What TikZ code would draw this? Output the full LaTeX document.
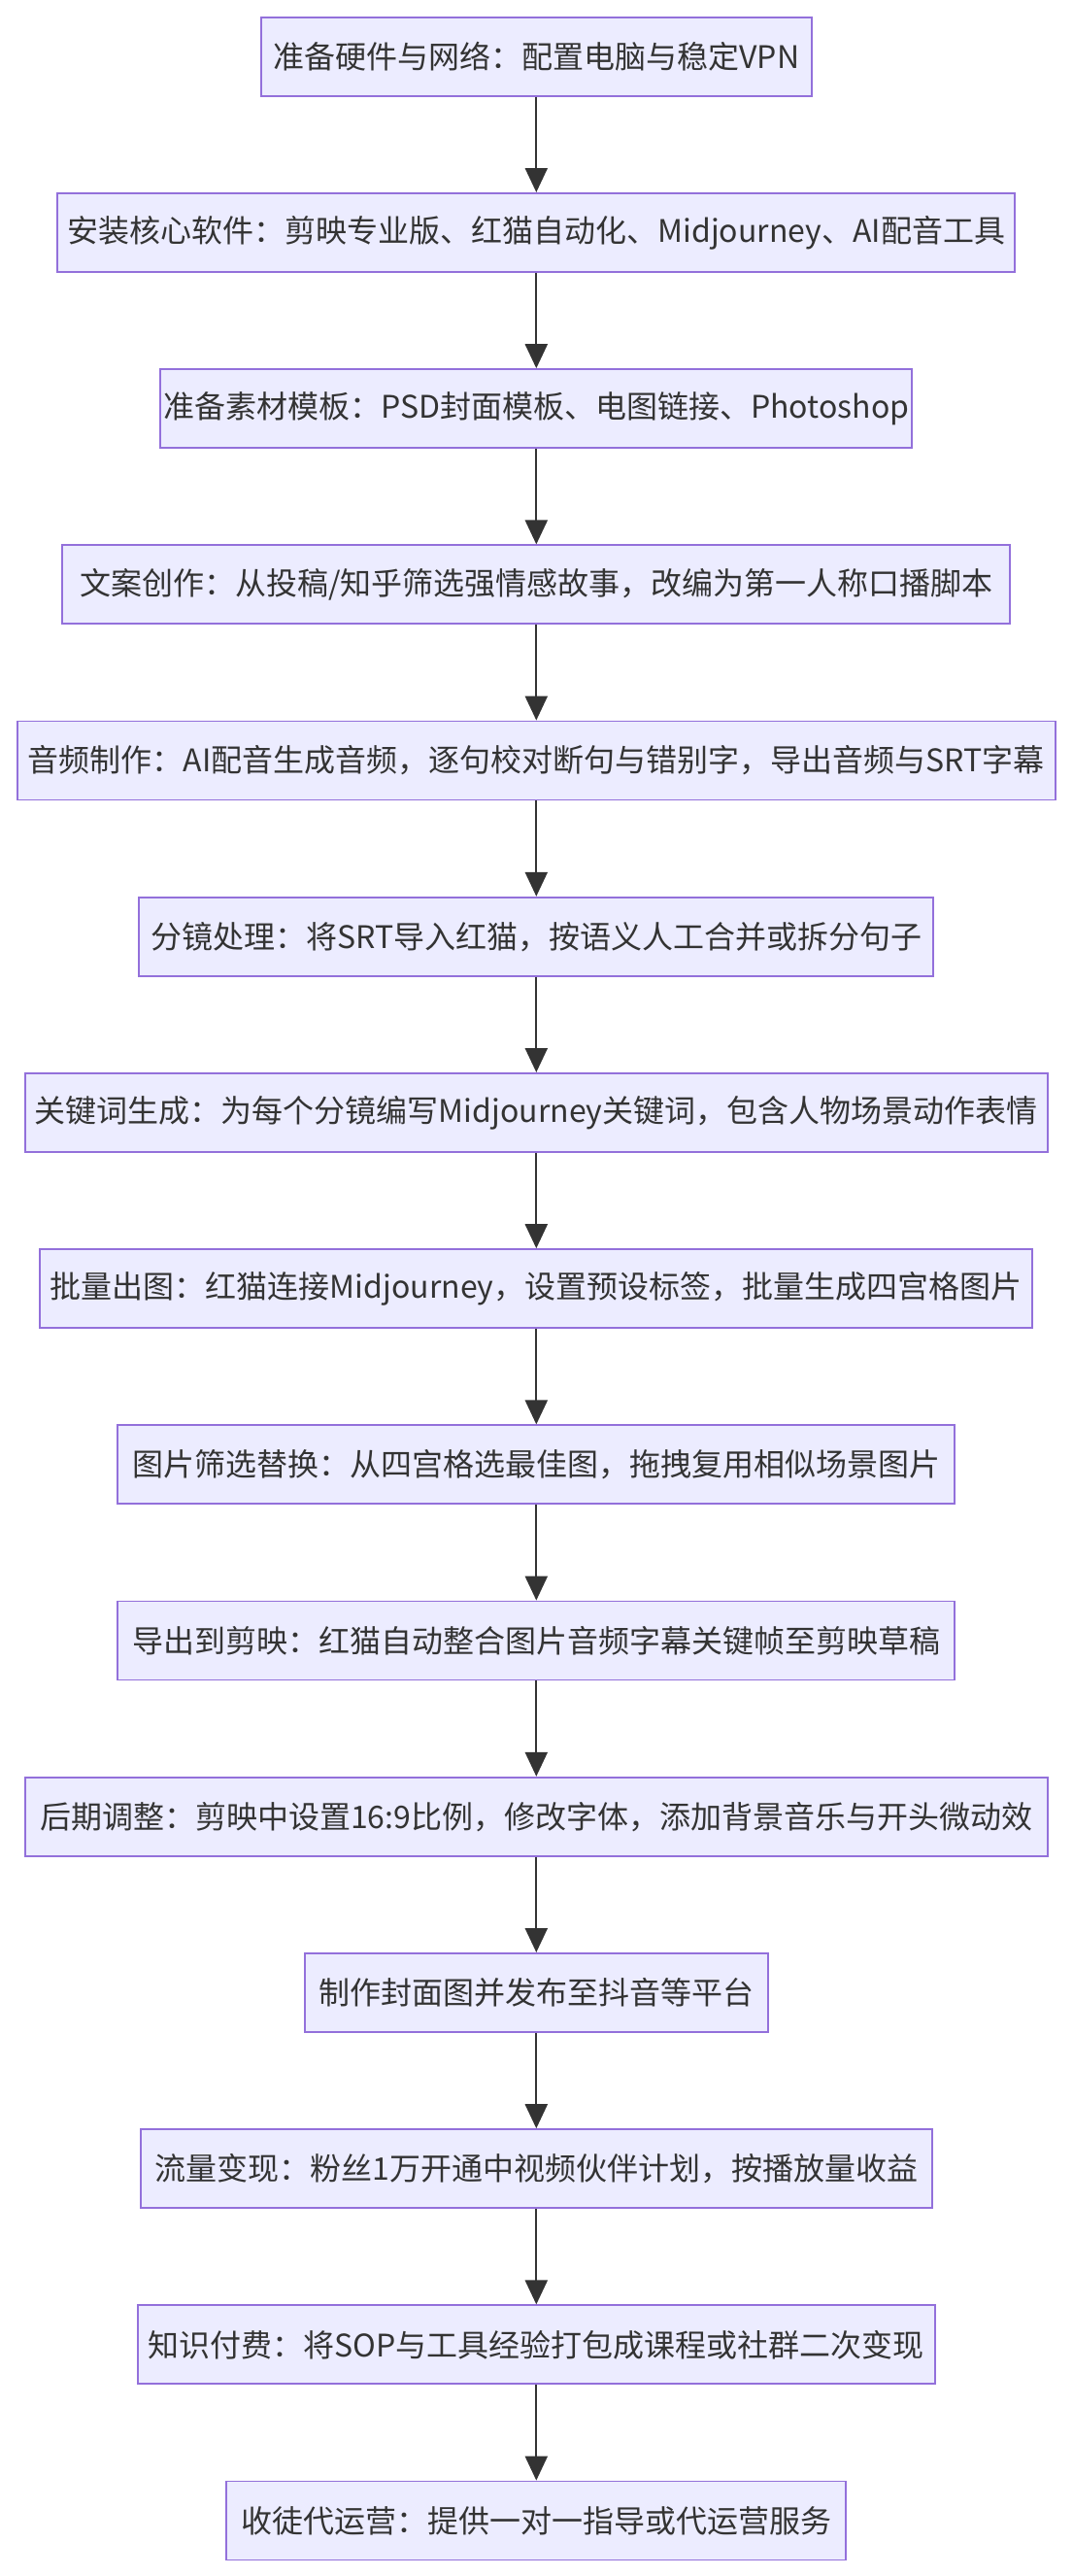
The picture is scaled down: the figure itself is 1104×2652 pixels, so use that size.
\documentclass[tikz,border=0pt]{standalone}
\usepackage{fontspec}
\setmainfont{Noto Sans CJK SC}
\usetikzlibrary{arrows.meta}
\definecolor{boxfill}{HTML}{ECECFF}
\definecolor{boxline}{HTML}{9370DB}
\definecolor{arrowcol}{HTML}{333333}
\tikzset{
  stepbox/.style={draw=boxline, fill=boxfill, line width=1.8pt, rectangle,
    minimum height=81pt, inner sep=0pt, text=arrowcol,
    font=\fontsize{32}{38}\selectfont},
  flowarrow/.style={draw=arrowcol, line width=2.2pt, -{Triangle[length=25pt,width=23pt]}}
}
\begin{document}
\begin{tikzpicture}[x=1pt,y=-1pt]
\useasboundingbox (0,0) rectangle (1104,2652);
\def\cx{552.3}
\node[stepbox, minimum width=567pt]  (n1)  at (\cx,58.2) {准备硬件与网络：配置电脑与稳定VPN};
\node[stepbox, minimum width=986pt]  (n2)  at (\cx,239.4) {安装核心软件：剪映专业版、红猫自动化、Midjourney、AI配音工具};
\node[stepbox, minimum width=774pt]  (n3)  at (\cx,420.6) {准备素材模板：PSD封面模板、电图链接、Photoshop};
\node[stepbox, minimum width=976pt]  (n4)  at (\cx,601.8) {文案创作：从投稿/知乎筛选强情感故事，改编为第一人称口播脚本};
\node[stepbox, minimum width=1069pt] (n5)  at (\cx,783.0) {音频制作：AI配音生成音频，逐句校对断句与错别字，导出音频与SRT字幕};
\node[stepbox, minimum width=818pt]  (n6)  at (\cx,964.2) {分镜处理：将SRT导入红猫，按语义人工合并或拆分句子};
\node[stepbox, minimum width=1053pt] (n7)  at (\cx,1145.4) {关键词生成：为每个分镜编写Midjourney关键词，包含人物场景动作表情};
\node[stepbox, minimum width=1022pt] (n8)  at (\cx,1326.6) {批量出图：红猫连接Midjourney，设置预设标签，批量生成四宫格图片};
\node[stepbox, minimum width=862pt]  (n9)  at (\cx,1507.8) {图片筛选替换：从四宫格选最佳图，拖拽复用相似场景图片};
\node[stepbox, minimum width=862pt]  (n10) at (\cx,1689.0) {导出到剪映：红猫自动整合图片音频字幕关键帧至剪映草稿};
\node[stepbox, minimum width=1053pt] (n11) at (\cx,1870.2) {后期调整：剪映中设置16:9比例，修改字体，添加背景音乐与开头微动效};
\node[stepbox, minimum width=477pt]  (n12) at (\cx,2051.4) {制作封面图并发布至抖音等平台};
\node[stepbox, minimum width=815pt]  (n13) at (\cx,2232.6) {流量变现：粉丝1万开通中视频伙伴计划，按播放量收益};
\node[stepbox, minimum width=821pt]  (n14) at (\cx,2413.8) {知识付费：将SOP与工具经验打包成课程或社群二次变现};
\node[stepbox, minimum width=638pt]  (n15) at (\cx,2595.0) {收徒代运营：提供一对一指导或代运营服务};
\foreach \a/\b in {n1/n2,n2/n3,n3/n4,n4/n5,n5/n6,n6/n7,n7/n8,n8/n9,n9/n10,n10/n11,n11/n12,n12/n13,n13/n14,n14/n15}
  \draw[flowarrow] (\a.south) -- (\b.north);
\end{tikzpicture}
\end{document}
